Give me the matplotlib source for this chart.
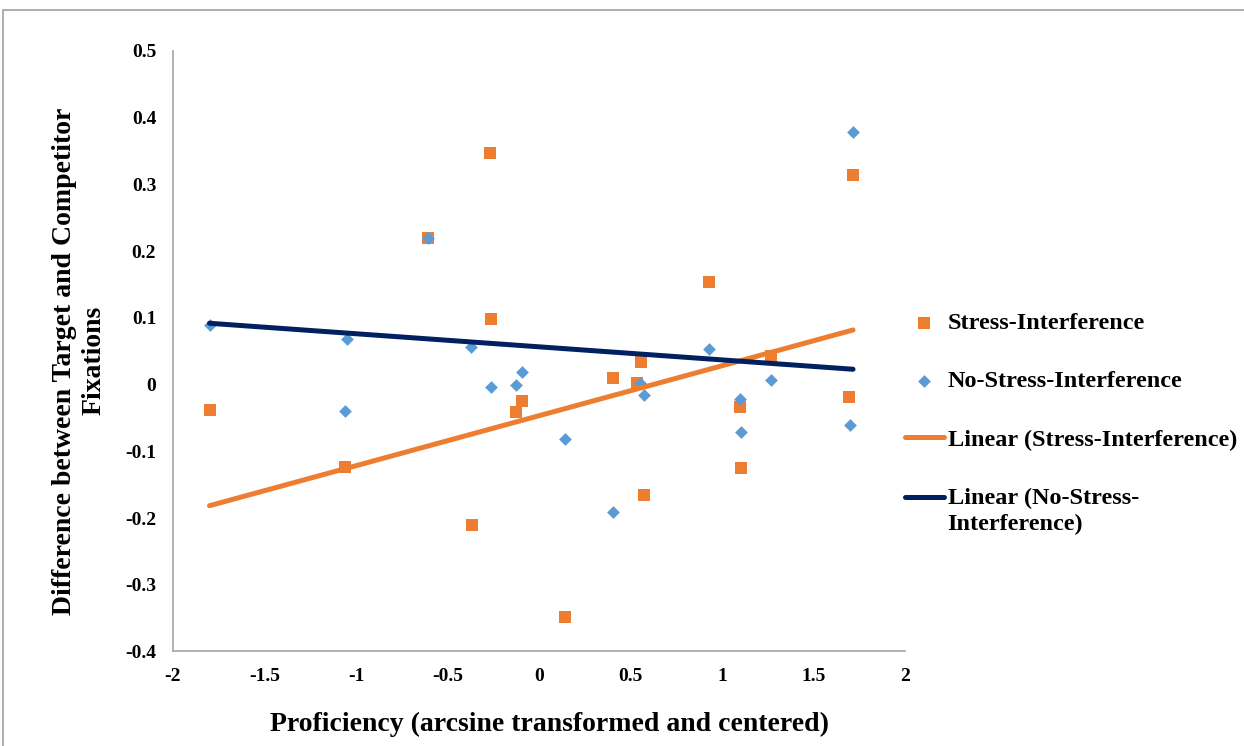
# Eye-tracking: target vs competitor fixation difference by proficiency
# Scatter of both conditions plus their linear trend lines

import numpy as np
import matplotlib
matplotlib.use('Agg')
import matplotlib.pyplot as plt
from matplotlib.patches import Rectangle
from matplotlib.ticker import FuncFormatter, MultipleLocator

plt.rcParams['font.family'] = ['Liberation Serif', 'DejaVu Serif']
plt.rcParams['font.weight'] = 'bold'
plt.rcParams['axes.unicode_minus'] = False

# Stress-Interference condition
stress_x = [-1.80, -1.06, -0.605, -0.27, -0.26, -0.366, -0.128, -0.094, 0.143, 0.405,
            0.555, 0.537, 0.575, 0.928, 1.10, 1.105, 1.27, 1.695, 1.716]
stress_y = [-0.038, -0.123, 0.219, 0.347, 0.098, -0.211, -0.041, -0.025, -0.349, 0.010,
            0.034, 0.003, -0.165, 0.153, -0.034, -0.125, 0.043, -0.018, 0.314]

# No-Stress-Interference condition
no_stress_x = [-1.80, -1.05, -1.06, -0.605, -0.369, -0.26, -0.128, -0.095, 0.143, 0.405,
               0.55, 0.575, 0.928, 1.10, 1.105, 1.27, 1.697, 1.716]
no_stress_y = [0.090, 0.068, -0.040, 0.219, 0.056, -0.004, 0.0, 0.019, -0.082, -0.191,
               0.003, -0.016, 0.054, -0.021, -0.071, 0.007, -0.060, 0.378]

# Linear trend coefficients (slope, intercept)
stress_trend = (0.0749, -0.0467)
no_stress_trend = (-0.0196, 0.0566)

orange = '#ED7D31'
light_blue = '#5B9BD5'
navy = '#002060'

fig = plt.figure(figsize=(12.44, 7.46), dpi=100)
ax = fig.add_axes([0.139, 0.1267, 0.5885, 0.805])

ax.scatter(stress_x, stress_y, marker='s', s=8.3**2, color=orange, linewidths=0,
           label='Stress-Interference', zorder=3)
ax.scatter(no_stress_x, no_stress_y, marker='D', s=6.5**2, color=light_blue, linewidths=0,
           label='No-Stress-Interference', zorder=4)

# Trend lines span the observed proficiency range
xs = np.array([min(stress_x), max(stress_x)])
ax.plot(xs, stress_trend[0] * xs + stress_trend[1], color=orange, lw=3.6,
        solid_capstyle='round', label='Linear (Stress-Interference)', zorder=5)
xs = np.array([min(no_stress_x), max(no_stress_x)])
ax.plot(xs, no_stress_trend[0] * xs + no_stress_trend[1], color=navy, lw=3.6,
        solid_capstyle='round', label='Linear (No-Stress-\nInterference)', zorder=5)

ax.set_xlim(-2, 2)
ax.set_ylim(-0.4, 0.5)
ax.xaxis.set_major_locator(MultipleLocator(0.5))
ax.yaxis.set_major_locator(MultipleLocator(0.1))
fmt = FuncFormatter(lambda v, p: '%g' % round(v, 2))
ax.xaxis.set_major_formatter(fmt)
ax.yaxis.set_major_formatter(fmt)
ax.tick_params(length=0, labelsize=14, pad=12)

for side in ['top', 'right']:
    ax.spines[side].set_visible(False)
for side in ['left', 'bottom']:
    ax.spines[side].set_color('#A6A6A6')
    ax.spines[side].set_linewidth(1.2)

ax.set_xlabel('Proficiency (arcsine transformed and centered)', fontsize=20, fontweight='bold')
ax.set_ylabel('Difference between Target and Competitor\nFixations', fontsize=20,
              fontweight='bold', linespacing=1.2)
ax.xaxis.set_label_coords(0.514, -0.121)
ax.xaxis.label.set_va('center')
ax.yaxis.set_label_coords(-0.128, 0.484)
ax.yaxis.label.set_va('center')

leg = fig.legend(loc='upper left', bbox_to_anchor=(905 / 1244, 1 - 312 / 746), frameon=False,
                 fontsize=17.5, handlelength=1.6, handletextpad=0.15, labelspacing=1.5,
                 borderaxespad=0, borderpad=0)
for t in leg.get_texts():
    t.set_linespacing(1.3)
# keep the wrapped entry's line level with its first text line
last = leg.legend_handles[3]
last.set_ydata(np.asarray(last.get_ydata()) + 10)

# Chart area border
fig.patches.append(Rectangle((3 / 1244, -0.1), 2, 1.1 - 10 / 746, transform=fig.transFigure,
                             fill=False, edgecolor='#A0A0A0', lw=1.2))

fig.savefig('out.png', dpi=100)
